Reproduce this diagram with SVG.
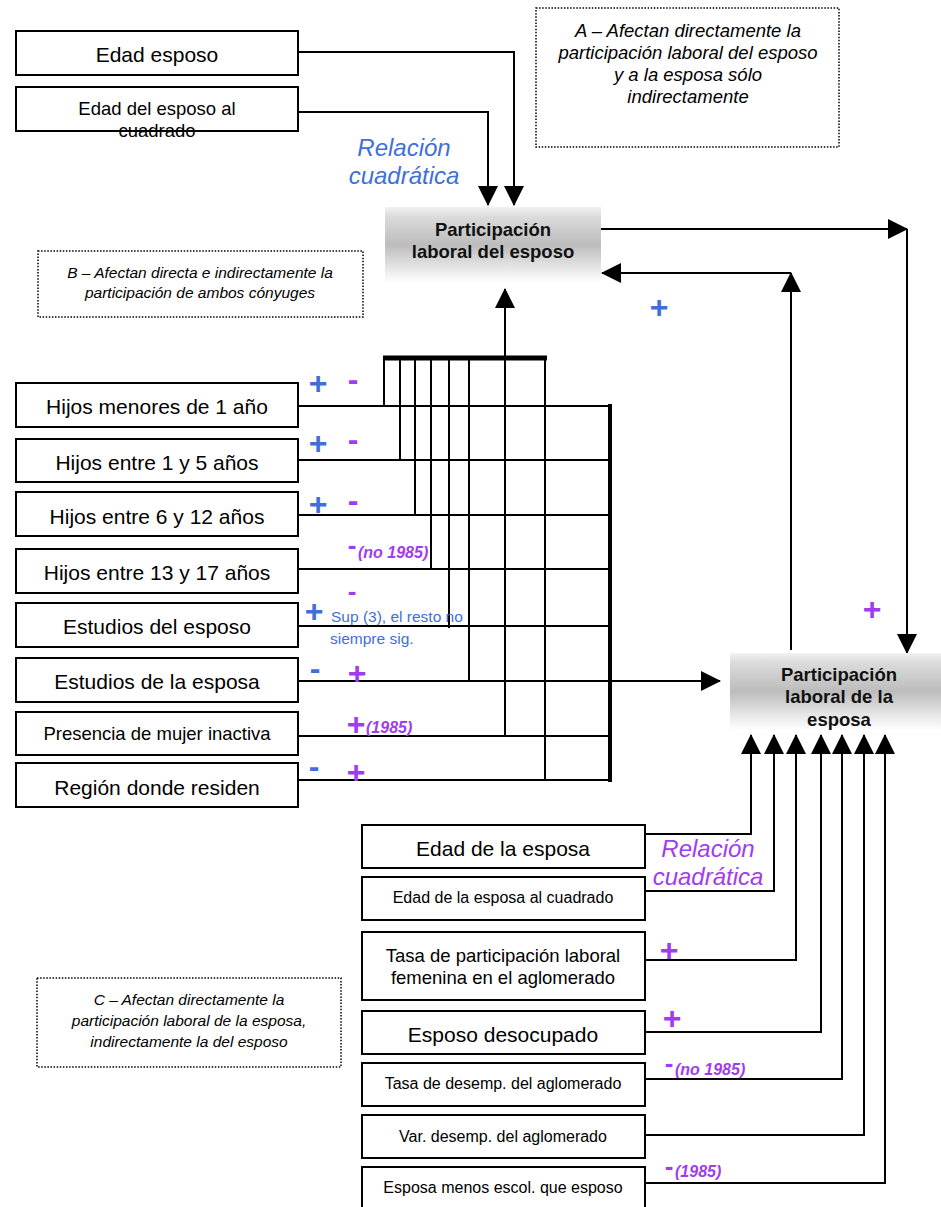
<svg xmlns="http://www.w3.org/2000/svg" width="941" height="1207" viewBox="0 0 941 1207">
<defs>
<style>
.box{fill:#fff;stroke:#000;stroke-width:2}
.note{fill:#fff;stroke:#000;stroke-width:1.5;stroke-dasharray:1.5 1.6}
.t{font-family:"Liberation Sans",Arial,sans-serif;fill:#000;text-anchor:middle}
.it{font-family:"Liberation Sans",Arial,sans-serif;font-style:italic;fill:#000;text-anchor:middle}
.nb{font-family:"Liberation Sans",Arial,sans-serif;font-weight:bold;fill:#111;text-anchor:middle;font-size:18.5px}
.c{fill:none;stroke:#000;stroke-width:2}
.bar{fill:none;stroke:#000;stroke-width:5}
.arr{marker-end:url(#ah)}
.sg{font-family:"Liberation Sans",Arial,sans-serif;font-weight:bold;font-size:32px;text-anchor:middle}
.sd{font-family:"Liberation Sans",Arial,sans-serif;font-weight:bold;font-size:26px;text-anchor:middle}
.ann{font-family:"Liberation Sans",Arial,sans-serif;font-weight:bold;font-style:italic;font-size:16px}
.blue{fill:#3F6FD8}
.purple{fill:#A03CF0}
.rel{font-family:"Liberation Sans",Arial,sans-serif;font-style:italic;font-size:24px;text-anchor:middle}
</style>
<linearGradient id="gnode" x1="0" y1="0" x2="0" y2="1">
<stop offset="0" stop-color="#f2f2f2"/>
<stop offset="0.12" stop-color="#dcdcdc"/>
<stop offset="0.5" stop-color="#bcbcbc"/>
<stop offset="0.8" stop-color="#e6e6e6"/>
<stop offset="1" stop-color="#ffffff"/>
</linearGradient>
<marker id="ah" viewBox="0 0 20 20" refX="19" refY="10" markerWidth="20" markerHeight="20" markerUnits="userSpaceOnUse" orient="auto">
<path d="M0,0 L20,10 L0,20 z" fill="#000"/>
</marker>
</defs>

<!-- notes -->
<g id="noteA">
<rect class="note" x="536" y="8" width="303" height="139"/>
<text class="it" font-size="18.5" x="688" y="37">A – Afectan directamente la</text>
<text class="it" font-size="18.5" x="688" y="59">participación laboral del esposo</text>
<text class="it" font-size="18.5" x="688" y="81">y a la esposa sólo</text>
<text class="it" font-size="18.5" x="688" y="103">indirectamente</text>
</g>
<g id="noteB">
<rect class="note" x="38" y="251" width="325" height="66"/>
<text class="it" font-size="15.5" x="200" y="278">B – Afectan directa e indirectamente la</text>
<text class="it" font-size="15.5" x="200" y="298">participación de ambos cónyuges</text>
</g>
<g id="noteC">
<rect class="note" x="37" y="978" width="304" height="89"/>
<text class="it" font-size="15.5" x="189" y="1005">C – Afectan directamente la</text>
<text class="it" font-size="15.5" x="189" y="1026">participación laboral de la esposa,</text>
<text class="it" font-size="15.5" x="189" y="1047">indirectamente la del esposo</text>
</g>

<!-- connectors -->
<g id="connectors">
<path class="c arr" d="M298,52 H514 V205"/>
<path class="c arr" d="M298,112 H488 V205"/>
<path class="c arr" d="M601,229 H907"/>
<path class="c arr" d="M907,229 V653"/>
<path class="c arr" d="M791,650 V273"/>
<path class="c arr" d="M791,273 H602"/>
<path class="c arr" d="M505,358 V289"/>
<path class="bar" d="M383,358 H547"/>
<path class="c" d="M384,358 V406 M400,358 V460 M415,358 V515 M431,358 V569 M449,358 V628 M469,358 V681 M505,358 V736 M545,358 V780"/>
<path class="c" d="M298,406 H610 M298,460 H610 M298,515 H610 M298,569 H610 M298,626 H610 M298,736 H610 M298,780 H610"/>
<path class="c arr" d="M298,681 H720"/>
<path class="c" style="stroke-width:4" d="M610,404 V782"/>
<path class="c arr" d="M645,834 H751 V735"/>
<path class="c arr" d="M645,891 H774 V735"/>
<path class="c arr" d="M645,960 H796 V735"/>
<path class="c arr" d="M645,1032 H821 V735"/>
<path class="c arr" d="M645,1079 H842 V735"/>
<path class="c arr" d="M645,1135 H864 V735"/>
<path class="c arr" d="M645,1183 H885 V735"/>
</g>

<!-- top inputs -->
<g id="edad-esposo">
<rect class="box" x="16" y="31" width="282" height="44"/>
<text class="t" font-size="21" x="157" y="62">Edad esposo</text>
</g>
<g id="edad-esposo-cuadrado">
<rect class="box" x="16" y="87" width="282" height="44"/>
<text class="t" font-size="18.5" x="157" y="115">Edad del esposo al</text>
<text class="t" font-size="18.5" x="157" y="137">cuadrado</text>
</g>
<g id="rel-esposo">
<text class="rel blue" x="404" y="156">Relación</text>
<text class="rel blue" x="404" y="184">cuadrática</text>
</g>

<!-- central nodes -->
<g id="part-esposo">
<rect x="385" y="207" width="216" height="76" fill="url(#gnode)"/>
<text class="nb" x="493" y="236">Participación</text>
<text class="nb" x="493" y="258">laboral del esposo</text>
</g>
<g id="part-esposa">
<rect x="730" y="653" width="211" height="77" fill="url(#gnode)"/>
<text class="nb" x="839" y="681">Participación</text>
<text class="nb" x="839" y="703">laboral de la</text>
<text class="nb" x="839" y="726">esposa</text>
</g>

<!-- B factors -->
<g id="hijos-1">
<rect class="box" x="16" y="383" width="282" height="44"/>
<text class="t" font-size="21" x="157" y="414">Hijos menores de 1 año</text>
</g>
<g id="hijos-1-5">
<rect class="box" x="16" y="439" width="282" height="43"/>
<text class="t" font-size="21" x="157" y="470">Hijos entre 1 y 5 años</text>
</g>
<g id="hijos-6-12">
<rect class="box" x="16" y="492" width="282" height="44"/>
<text class="t" font-size="21" x="157" y="524">Hijos entre 6 y 12 años</text>
</g>
<g id="hijos-13-17">
<rect class="box" x="16" y="549" width="282" height="44"/>
<text class="t" font-size="21" x="157" y="580">Hijos entre 13 y 17 años</text>
</g>
<g id="estudios-esposo">
<rect class="box" x="16" y="603" width="282" height="44"/>
<text class="t" font-size="21" x="157" y="634">Estudios del esposo</text>
</g>
<g id="estudios-esposa">
<rect class="box" x="16" y="658" width="282" height="44"/>
<text class="t" font-size="21" x="157" y="689">Estudios de la esposa</text>
</g>
<g id="mujer-inactiva">
<rect class="box" x="16" y="712" width="282" height="43"/>
<text class="t" font-size="18.5" x="157" y="740">Presencia de mujer inactiva</text>
</g>
<g id="region">
<rect class="box" x="16" y="763" width="282" height="44"/>
<text class="t" font-size="21" x="157" y="795">Región donde residen</text>
</g>

<!-- C factors -->
<g id="edad-esposa">
<rect class="box" x="362" y="825" width="283" height="43"/>
<text class="t" font-size="21" x="503" y="856">Edad de la esposa</text>
</g>
<g id="edad-esposa-cuadrado">
<rect class="box" x="362" y="877" width="283" height="43"/>
<text class="t" font-size="16" x="503" y="903">Edad de la esposa al cuadrado</text>
</g>
<g id="rel-esposa">
<text class="rel purple" x="708" y="857">Relación</text>
<text class="rel purple" x="708" y="885">cuadrática</text>
</g>
<g id="tasa-part">
<rect class="box" x="362" y="932" width="283" height="68"/>
<text class="t" font-size="18.5" x="503" y="962">Tasa de participación laboral</text>
<text class="t" font-size="18.5" x="503" y="984">femenina en el aglomerado</text>
</g>
<g id="esposo-desocupado">
<rect class="box" x="362" y="1011" width="283" height="43"/>
<text class="t" font-size="21" x="503" y="1042">Esposo desocupado</text>
</g>
<g id="tasa-desemp">
<rect class="box" x="362" y="1063" width="283" height="43"/>
<text class="t" font-size="16" x="503" y="1089">Tasa de desemp. del aglomerado</text>
</g>
<g id="var-desemp">
<rect class="box" x="362" y="1115" width="283" height="43"/>
<text class="t" font-size="16" x="503" y="1142">Var. desemp. del aglomerado</text>
</g>
<g id="menos-escol">
<rect class="box" x="362" y="1167" width="283" height="50"/>
<text class="t" font-size="16" x="503" y="1193">Esposa menos escol. que esposo</text>
</g>

<!-- signs -->
<g id="signs">
<text class="sg blue" x="318" y="394">+</text>
<text class="sg purple" x="353" y="390">-</text>
<text class="sg blue" x="318" y="454">+</text>
<text class="sg purple" x="353" y="450">-</text>
<text class="sg blue" x="318" y="515">+</text>
<text class="sg purple" x="353" y="511">-</text>
<text class="sd purple" x="352" y="554">-</text>
<text class="ann purple" x="358" y="558">(no 1985)</text>
<text class="sd purple" x="352" y="600">-</text>
<text class="sg blue" x="314" y="622">+</text>
<text class="blue" font-family="Liberation Sans, Arial, sans-serif" font-size="15.5" x="331" y="622">Sup (3), el resto no</text>
<text class="blue" font-family="Liberation Sans, Arial, sans-serif" font-size="15.5" x="330" y="644">siempre sig.</text>
<text class="sg blue" x="315" y="679">-</text>
<text class="sg purple" x="357" y="684">+</text>
<text class="sg purple" x="356" y="735">+</text>
<text class="ann purple" x="366" y="733">(1985)</text>
<text class="sg blue" x="314" y="777">-</text>
<text class="sg purple" x="356" y="783">+</text>
<text class="sg blue" x="659" y="318">+</text>
<text class="sg purple" x="872" y="620">+</text>
<text class="sg purple" x="669" y="961">+</text>
<text class="sg purple" x="672" y="1029">+</text>
<text class="sd purple" x="669" y="1072">-</text>
<text class="ann purple" x="675" y="1075">(no 1985)</text>
<text class="sd purple" x="669" y="1175">-</text>
<text class="ann purple" x="675" y="1177">(1985)</text>
</g>
</svg>
